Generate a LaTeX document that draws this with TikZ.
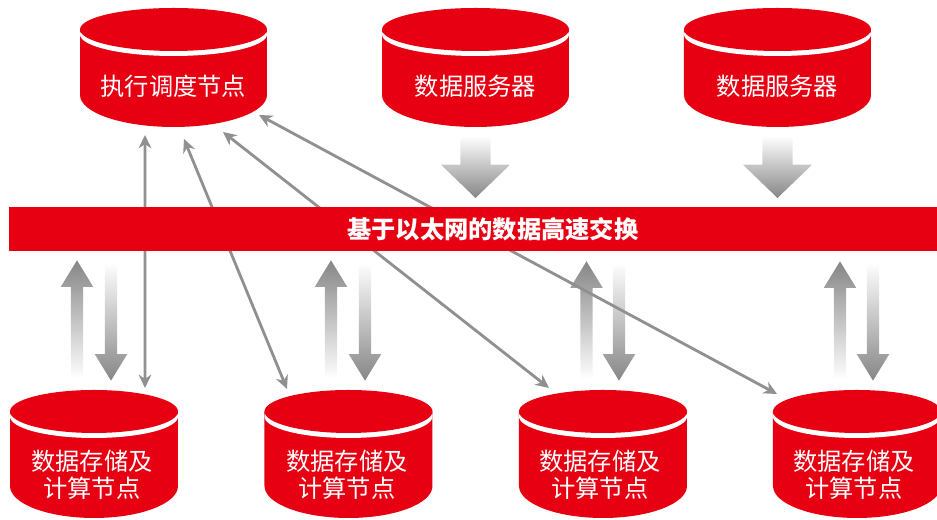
\documentclass[tikz,border=0pt]{standalone}
\usepackage{fontspec}
\usepackage{tikz}
\usetikzlibrary{arrows.meta, shapes.arrows}
\newfontfamily\cjk{Noto Sans CJK SC}
\definecolor{dbred}{HTML}{E60012}
\definecolor{linegray}{HTML}{909090}
\definecolor{fadegray}{HTML}{868686}
\tikzset{
  db/.style 2 args = {shape = rectangle, inner sep = 0pt, outer sep = 0pt, minimum width = #1, minimum height = #2,
    path picture = {
      \fill[dbred] ([yshift = -.215cm]path picture bounding box.north west) -- ([yshift = .32cm]path picture bounding box.south west)
        arc[start angle = 180, end angle = 360, x radius = #1/2, y radius = .32cm] -- ([yshift = -.215cm]path picture bounding box.north east) -- cycle;
      \fill[white] ([yshift = -.265cm]path picture bounding box.north) ellipse [x radius = #1/2, y radius = .215cm];
      \fill[dbred] ([yshift = -.215cm]path picture bounding box.north) ellipse [x radius = #1/2, y radius = .215cm];
    }},
  dbtext/.style = {text = white, align = center, inner sep = 0pt, font = \cjk\fontsize{6.9pt}{7.7pt}\selectfont},
  thinarrow/.style = {draw = linegray, line width = .8pt, {Stealth[length = 3.8pt, width = 3.6pt]}-{Stealth[length = 3.8pt, width = 3.6pt]}},
  bigarrow/.style = {shape = single arrow, inner xsep = 0pt, inner ysep = .14cm, anchor = tip, minimum width = .69cm, minimum height = .62cm,
    single arrow head extend = .19cm, single arrow tip angle = 92, single arrow head indent = 0pt, top color = white, bottom color = fadegray},
  lowarrow/.style = {shape = single arrow, inner xsep = 0pt, inner ysep = .055cm, anchor = tip, minimum width = .32cm, minimum height = 1.18cm,
    single arrow head extend = .1cm, single arrow tip angle = 63, single arrow head indent = 0pt},
  uparrow/.style = {lowarrow, rotate = 90, bottom color = white, top color = fadegray},
  downarrow/.style = {lowarrow, rotate = -90, top color = white, bottom color = fadegray}
}
\begin{document}
\begin{tikzpicture}
    \useasboundingbox (0,0) rectangle (9.37,5.2);
    % upper row
    \node[db = {1.87cm}{1.19cm}] (exec) at (1.735,4.525) {};
    \node[db = {1.87cm}{1.19cm}] (srvA) at (4.755,4.525) {};
    \node[db = {1.87cm}{1.19cm}] (srvB) at (7.775,4.525) {};
    \node[dbtext] (execText) at ([yshift = -.185cm]exec.center) {执行调度节点};
    \node[dbtext] (srvAText) at ([yshift = -.185cm]srvA.center) {数据服务器};
    \node[dbtext] (srvBText) at ([yshift = -.185cm]srvB.center) {数据服务器};
    % lower row
    \node[db = {1.68cm}{1.28cm}] (compA) at (.94,.66) {};
    \node[db = {1.68cm}{1.28cm}] (compB) at (3.485,.66) {};
    \node[db = {1.68cm}{1.28cm}] (compC) at (6.03,.66) {};
    \node[db = {1.68cm}{1.28cm}] (compD) at (8.57,.66) {};
    \node[dbtext] (compAText) at ([shift = {(-.02,-.21)}]compA.center) {数据存储及\\计算节点};
    \node[dbtext] (compBText) at ([shift = {(-.015,-.21)}]compB.center) {数据存储及\\计算节点};
    \node[dbtext] (compCText) at ([shift = {(-.03,-.21)}]compC.center) {数据存储及\\计算节点};
    \node[dbtext] (compDText) at ([shift = {(-.03,-.21)}]compD.center) {数据存储及\\计算节点};
    % block arrows
    \node[bigarrow, rotate = -90] (inA) at (4.755,3.21) {};
    \node[bigarrow, rotate = -90] (inB) at (7.775,3.21) {};
    \node[uparrow] (upA) at (.77,2.61) {};
    \node[downarrow] (downA) at (1.11,1.38) {};
    \node[uparrow] (upB) at (3.31,2.61) {};
    \node[downarrow] (downB) at (3.65,1.38) {};
    \node[uparrow] (upC) at (5.865,2.6) {};
    \node[downarrow] (downC) at (6.19,1.38) {};
    \node[uparrow] (upD) at (8.40,2.6) {};
    \node[downarrow] (downD) at (8.73,1.38) {};
    % thin arrows go behind the band
    \draw[thinarrow] ([shift = {(-.285,-.08)}]exec.south) -- ([shift = {(.51,.02)}]compA.north);
    \draw[thinarrow] ([shift = {(.105,-.12)}]exec.south) -- ([shift = {(-.615,.01)}]compB.north);
    \draw[thinarrow] ([shift = {(.495,-.05)}]exec.south) -- ([shift = {(-.54,.02)}]compC.north);
    \draw[thinarrow] ([shift = {(.855,.12)}]exec.south) -- ([shift = {(-.80,-.04)}]compD.north);
    % band
    \node[fill = dbred, inner sep = 0pt, minimum width = 9.28cm, minimum height = .44cm] (band) at (4.73,2.91) {};
    \node[dbtext, font = \cjk\bfseries\fontsize{6.9pt}{7.7pt}\selectfont] (bandText) at ([xshift = .2cm]band.center) {基于以太网的数据高速交换};
\end{tikzpicture}
\end{document}
